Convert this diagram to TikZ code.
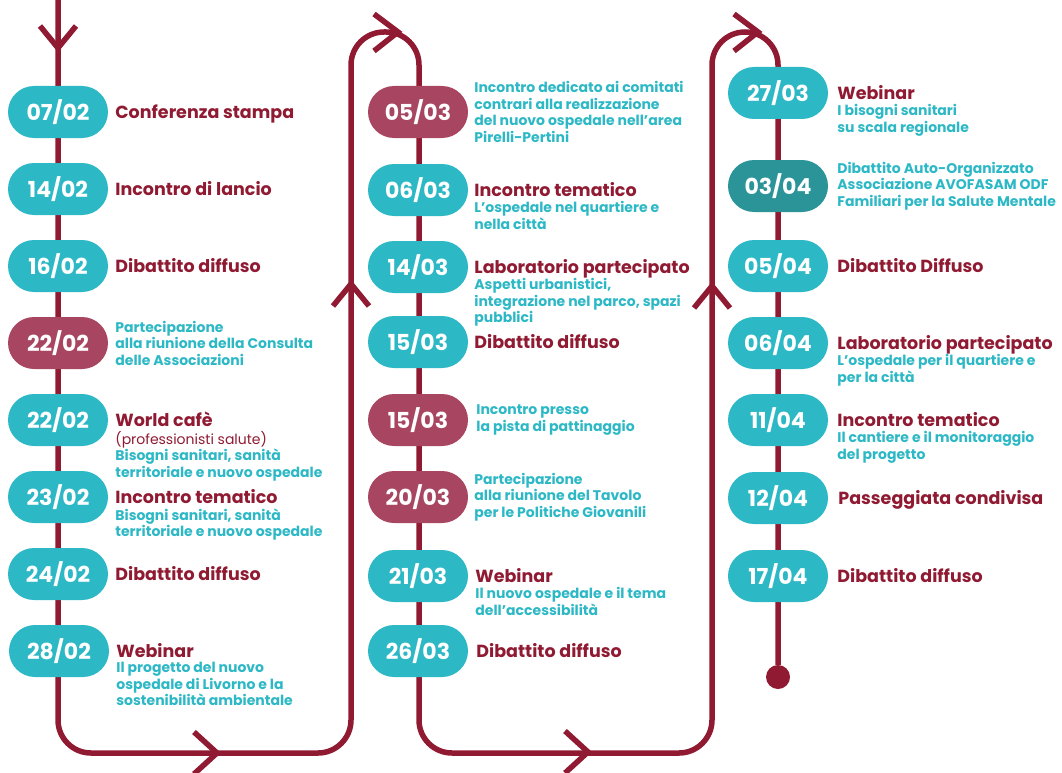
\documentclass[tikz,border=0pt]{standalone}
\usepackage{fontspec}
\setmainfont{Poppins}
\usetikzlibrary{positioning}
\usetikzlibrary{calc}
\definecolor{wine}{RGB}{143,26,50}
\definecolor{aqua}{RGB}{45,184,198}
\definecolor{rose}{RGB}{168,70,97}
\definecolor{petrol}{RGB}{42,148,152}
\tikzset{
  % common styles for the timeline
  track/.style={draw=wine, line width=5.5pt, rounded corners=33pt},
  chevron/.style={draw=wine, line width=5.5pt},
  pill/.style={rectangle, rounded corners=26pt, minimum width=100pt, minimum height=52pt, fill=#1, text=white, font=\fontsize{22}{24}\selectfont\bfseries, inner sep=0pt},
  pill/.default=aqua,
  ttl/.style={text=wine, font=\fontsize{17.5}{19}\selectfont\bfseries, inner sep=0pt, text height=14pt, text depth=1pt},
  sub/.style={text=aqua, font=\fontsize{14}{16.5}\selectfont\bfseries, inner sep=0pt, align=left},
  subof/.style={sub, anchor=north west, at={($(#1.south west)+(0,3.5)$)}}
}
\begin{document}
\begin{tikzpicture}[x=1pt, y=-1pt, node distance=7pt]
    \useasboundingbox (0,0) rectangle (1062,773);

    % Track
    \coordinate (top) at (58,-5);
    \node [circle, fill=wine, minimum size=24pt, inner sep=0pt] (enddot) at (778,677) {};
    \draw [track] (top) -- (58,753) -- (351,753) -- (351,32) -- (419,32) -- (419,753)
        -- (712,753) -- (712,32) -- (778,32) -- (enddot);

    % Chevrons
    \coordinate (c1) at (58,48);
    \coordinate (c2) at (217,753);
    \coordinate (c3) at (351,284);
    \coordinate (c4) at (398,32);
    \coordinate (c5) at (588,752);
    \coordinate (c6) at (712,286);
    \coordinate (c7) at (758,32);
    \draw [chevron] ([shift={(-18,-22)}]c1) -- (c1) -- ([shift={(18,-22)}]c1);
    \draw [chevron] ([shift={(-23,-21)}]c2) -- (c2) -- ([shift={(-23,21)}]c2);
    \draw [chevron] ([shift={(-18,22)}]c3) -- (c3) -- ([shift={(18,22)}]c3);
    \draw [chevron] ([shift={(-24,-18)}]c4) -- (c4) -- ([shift={(-24,19)}]c4);
    \draw [chevron] ([shift={(-23,-21)}]c5) -- (c5) -- ([shift={(-23,21)}]c5);
    \draw [chevron] ([shift={(-18,22)}]c6) -- (c6) -- ([shift={(18,22)}]c6);
    \draw [chevron] ([shift={(-24,-18)}]c7) -- (c7) -- ([shift={(-24,19)}]c7);

    % February
    \node [pill] (d1) at (58,112) {07/02};
    \node [pill] (d2) at (58,189) {14/02};
    \node [pill] (d3) at (58,266) {16/02};
    \node [pill=rose] (d4) at (58,343) {22/02};
    \node [pill] (d5) at (58,420) {22/02};
    \node [pill] (d6) at (58,497) {23/02};
    \node [pill] (d7) at (58,574) {24/02};
    \node [pill] (d8) at (59,651) {28/02};

    \node [ttl, right=of d1] (t1) {Conferenza stampa};
    \node [ttl, right=of d2] (t2) {Incontro di lancio};
    \node [ttl, right=of d3] (t3) {Dibattito diffuso};
    \node [sub, right=of d4] (s4) {Partecipazione\\alla riunione della Consulta\\delle Associazioni};
    \node [ttl, right=of d5] (t5) {World cafè};
    \node [subof=t5] (s5) {{\color{wine}\mdseries(professionisti salute)}\\Bisogni sanitari, sanità\\territoriale e nuovo ospedale};
    \node [ttl, right=of d6] (t6) {Incontro tematico};
    \node [subof=t6] (s6) {Bisogni sanitari, sanità\\territoriale e nuovo ospedale};
    \node [ttl, right=of d7] (t7) {Dibattito diffuso};
    \node [ttl, right=of d8] (t8) {Webinar};
    \node [subof=t8] (s8) {Il progetto del nuovo\\ospedale di Livorno e la\\sostenibilità ambientale};

    % March
    \node [pill=rose] (e1) at (418,112) {05/03};
    \node [pill] (e2) at (418,190) {06/03};
    \node [pill] (e3) at (418,267) {14/03};
    \node [pill] (e4) at (418,342) {15/03};
    \node [pill=rose] (e5) at (418,420) {15/03};
    \node [pill=rose] (e6) at (418,497) {20/03};
    \node [pill] (e7) at (418,576) {21/03};
    \node [pill] (e8) at (418,651) {26/03};

    \node [sub, right=6pt of e1] (s11) {Incontro dedicato ai comitati\\contrari alla realizzazione\\del nuovo ospedale nell’area\\Pirelli-Pertini};
    \node [ttl, right=6pt of e2] (t12) {Incontro tematico};
    \node [subof=t12] (s12) {L’ospedale nel quartiere e\\nella città};
    \node [ttl, right=6pt of e3] (t13) {Laboratorio partecipato};
    \node [subof=t13] (s13) {Aspetti urbanistici,\\integrazione nel parco, spazi\\pubblici};
    \node [ttl, right=6pt of e4] (t14) {Dibattito diffuso};
    \node [sub, right=8pt of e5] (s15) {Incontro presso\\la pista di pattinaggio};
    \node [sub, right=6pt of e6] (s16) {Partecipazione\\alla riunione del Tavolo\\per le Politiche Giovanili};
    \node [ttl, right=7pt of e7] (t17) {Webinar};
    \node [subof=t17] (s17) {Il nuovo ospedale e il tema\\dell’accessibilità};
    \node [ttl, right=8pt of e8] (t18) {Dibattito diffuso};

    % April
    \node [pill] (f1) at (778,93) {27/03};
    \node [pill=petrol] (f2) at (778,186) {03/04};
    \node [pill] (f3) at (778,266) {05/04};
    \node [pill] (f4) at (778,343) {06/04};
    \node [pill] (f5) at (778,420) {11/04};
    \node [pill] (f6) at (778,498) {12/04};
    \node [pill] (f7) at (778,576) {17/04};

    \node [ttl, right=9pt of f1] (t21) {Webinar};
    \node [subof=t21] (s21) {I bisogni sanitari\\su scala regionale};
    \node [sub, right=9pt of f2] (s22) {Dibattito Auto-Organizzato\\Associazione AVOFASAM ODF\\Familiari per la Salute Mentale};
    \node [ttl, right=9pt of f3] (t23) {Dibattito Diffuso};
    \node [ttl, right=9pt of f4] (t24) {Laboratorio partecipato};
    \node [subof=t24] (s24) {L’ospedale per il quartiere e\\per la città};
    \node [ttl, right=9pt of f5] (t25) {Incontro tematico};
    \node [subof=t25] (s25) {Il cantiere e il monitoraggio\\del progetto};
    \node [ttl, right=10pt of f6] (t26) {Passeggiata condivisa};
    \node [ttl, right=9pt of f7] (t27) {Dibattito diffuso};
\end{tikzpicture}
\end{document}
